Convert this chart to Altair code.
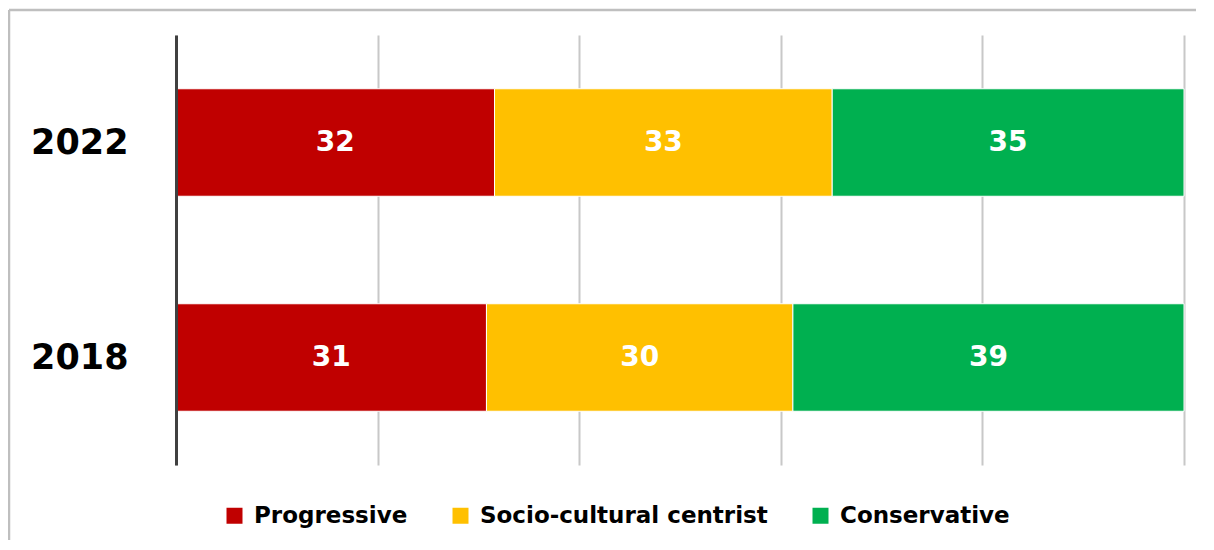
import altair as alt
import pandas as pd

years = ["2022", "2018"]
groups = ["Progressive", "Socio-cultural centrist", "Conservative"]
colors = ["#C00000", "#FFC000", "#00B050"]
# bar widths (per cent), and the printed labels
shares_2022 = [31.6, 33.5, 34.9]
shares_2018 = [30.8, 30.4, 38.8]
labels_2022 = [32, 33, 35]
labels_2018 = [31, 30, 39]
grid_ticks = [0, 20, 40, 60, 80, 100]

rows = []
for y, shares, labs in [("2022", shares_2022, labels_2022), ("2018", shares_2018, labels_2018)]:
    for i, (g, s, l) in enumerate(zip(groups, shares, labs)):
        rows.append({"year": y, "group": g, "share": s, "label": str(l), "order": i})
df = pd.DataFrame(rows)

FONT = "DejaVu Sans"
W, H = 1008, 430

base = alt.Chart(df).transform_stack(
    stack="share", groupby=["year"], as_=["s0", "s1"], sort=[alt.SortField("order")]
).transform_calculate(mid="(datum.s0 + datum.s1) / 2")

yenc = alt.Y(
    "year:N",
    sort=years,
    title=None,
    scale=alt.Scale(paddingInner=0.5, paddingOuter=0.25),
    axis=alt.Axis(
        labelFont=FONT, labelFontSize=35, labelFontWeight="bold", labelColor="#000000",
        labelPadding=48, ticks=False, domainColor="#404040", domainWidth=3,
        grid=False, zindex=1,
    ),
)

bars = base.mark_bar(stroke="white", strokeWidth=1).encode(
    x=alt.X(
        "s0:Q",
        scale=alt.Scale(domain=[0, 100], nice=False),
        title=None,
        axis=alt.Axis(
            values=grid_ticks, labels=False, ticks=False, domain=False,
            grid=True, gridColor="#c8c8c8", gridWidth=2,
        ),
    ),
    x2="s1:Q",
    y=yenc,
    color=alt.Color(
        "group:N",
        sort=groups,
        scale=alt.Scale(domain=groups, range=colors),
        legend=alt.Legend(
            title=None, orient="none", legendX=47, legendY=469, direction="horizontal",
            symbolType="square", symbolSize=256, symbolStrokeWidth=0, labelOffset=8,
            labelFont=FONT, labelFontSize=23, labelFontWeight="bold", labelColor="#000000",
            columnPadding=41, labelLimit=400,
        ),
    ),
)

text = base.mark_text(
    font=FONT, fontSize=28, fontWeight="bold", color="white", baseline="middle", align="center"
).encode(
    x=alt.X("mid:Q"),
    y=alt.Y("year:N", sort=years),
    text="label:N",
)

one = pd.DataFrame({"k": [0]})
frame_top = alt.Chart(one).mark_rule(color="#bfbfbf", strokeWidth=2.5, clip=False).encode(
    x=alt.value(-167), x2=alt.value(W + 80), y=alt.value(-25),
)
frame_left = alt.Chart(one).mark_rule(color="#bfbfbf", strokeWidth=2.5, clip=False).encode(
    x=alt.value(-167), y=alt.value(-25), y2=alt.value(H + 150),
)

chart = alt.layer(frame_top, frame_left, bars, text).properties(
    width=W, height=H,
    autosize=alt.AutoSizeParams(type="none"),
    padding={"left": 168, "top": 27, "right": 12, "bottom": 75},
    background="white",
).configure_view(stroke=None)

chart.save("out.html", embed_options={"renderer": "svg", "actions": False})
